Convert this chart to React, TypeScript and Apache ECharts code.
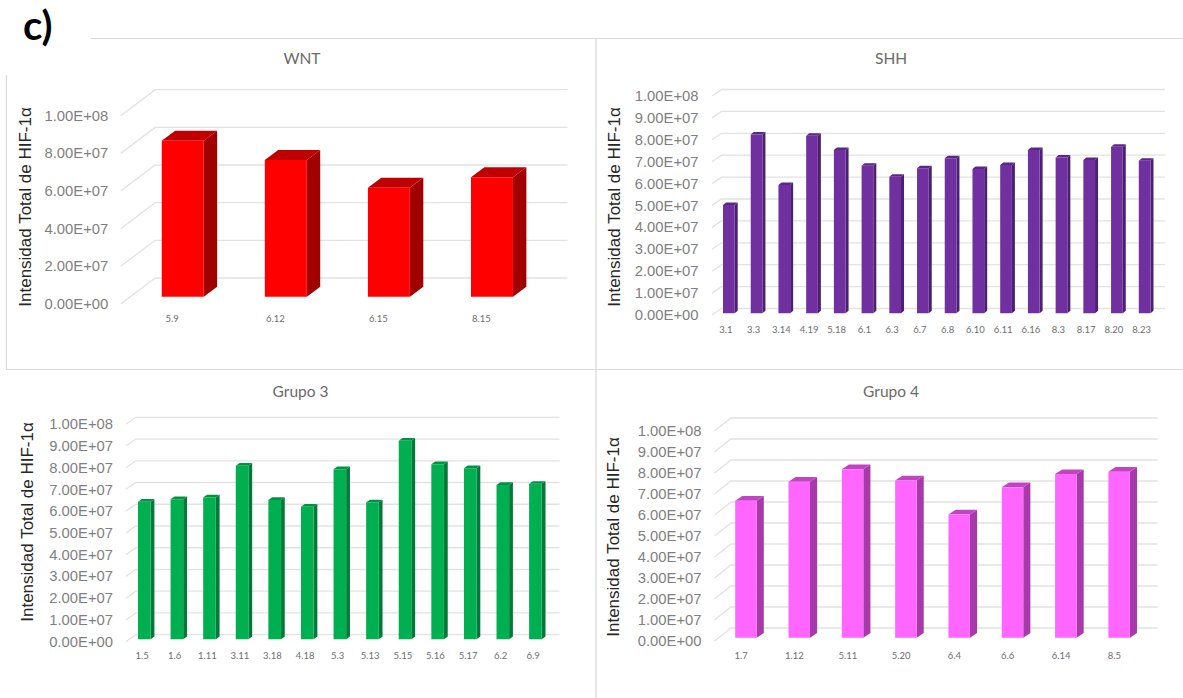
import React, { useEffect, useRef } from "react";
import * as echarts from "echarts";

// Patient sample labels and total HIF-1α intensity for each medulloblastoma group
const wntCategories = ["5.9", "6.12", "6.15", "8.15"];
const wntValues = [8.28e7, 7.26e7, 5.79e7, 6.34e7];

const shhCategories = ["3.1", "3.3", "3.14", "4.19", "5.18", "6.1", "6.3", "6.7", "6.8", "6.10", "6.11", "6.16", "8.3", "8.17", "8.20", "8.23"];
const shhValues = [4.95e7, 8.17e7, 5.86e7, 8.11e7, 7.46e7, 6.74e7, 6.24e7, 6.62e7, 7.08e7, 6.59e7, 6.77e7, 7.46e7, 7.11e7, 7.0e7, 7.61e7, 6.97e7];

const grupo3Categories = ["1.5", "1.6", "1.11", "3.11", "3.18", "4.18", "5.3", "5.13", "5.15", "5.16", "5.17", "6.2", "6.9"];
const grupo3Values = [6.33e7, 6.44e7, 6.52e7, 7.98e7, 6.41e7, 6.1e7, 7.82e7, 6.3e7, 9.13e7, 8.05e7, 7.87e7, 7.1e7, 7.15e7];

const grupo4Categories = ["1.7", "1.12", "5.11", "5.20", "6.4", "6.6", "6.14", "8.5"];
const grupo4Values = [6.52e7, 7.43e7, 8.02e7, 7.49e7, 5.87e7, 7.17e7, 7.79e7, 7.9e7];

const AXIS_NAME = "Intensidad Total de HIF-1α";
const AXIS_MAX = 1e8;

// Pseudo-3D geometry: the grid is the front floor plane, the wall sits behind it,
// and each column stands part-way into the depth.
const panels = [
  {
    title: "WNT", titleX: 297, titleY: 54, categories: wntCategories, values: wntValues, interval: 2e7,
    left: 120.7, right: 533, top: 115.7, bottom: 304, wall: [34.5, 26], nameX: 25.5, nameY: 207, labelRight: 108.3,
    shift: [10.5, -7.3], barWidth: 42, depth: [13.4, 10],
    colors: ["#ff0000", "#a00000", "#c00000"],
  },
  {
    title: "SHH", titleX: 886, titleY: 54, categories: shhCategories, values: shhValues, interval: 1e7,
    left: 712, right: 1155.5, top: 96, bottom: 315, wall: [9.5, 6.5], nameX: 615.2, nameY: 207, labelRight: 698.5,
    shift: [3, -1.7], barWidth: 11.7, depth: [3, 2.5],
    colors: ["#7030a0", "#4b2070", "#5a2785"],
  },
  {
    title: "Grupo 3", titleX: 295.5, titleY: 386.5, categories: grupo3Categories, values: grupo3Values, interval: 1e7,
    left: 125.8, right: 549.5, top: 424.3, bottom: 641.7, wall: [10, 7], nameX: 28.2, nameY: 522, labelRight: 113,
    shift: [2.2, -2.4], barWidth: 12.6, depth: [3.8, 2.7],
    colors: ["#00b050", "#007a38", "#009344"],
  },
  {
    title: "Grupo 4", titleX: 886, titleY: 386.5, categories: grupo4Categories, values: grupo4Values, interval: 1e7,
    left: 714.5, right: 1141, top: 431, bottom: 641, wall: [16.5, 13], nameX: 614.1, nameY: 537, labelRight: 701.5,
    shift: [4.8, -3.3], barWidth: 21.5, depth: [7.1, 4.7],
    colors: ["#ff66ff", "#a839a8", "#c045c0"],
  },
];

const frameLines = [
  [91, 38.5, 1183, 38.5],
  [6.5, 75, 6.5, 369.5],
  [6.5, 369.5, 1183, 369.5],
  [596, 38.5, 596, 698],
];

function scientific(v: number) {
  const [mantissa, exponent] = v.toExponential(2).split("e");
  const sign = exponent[0] === "-" ? "-" : "+";
  return `${mantissa}E${sign}${exponent.replace(/[+-]/, "").padStart(2, "0")}`;
}

function wallTicks(interval: number) {
  const ticks: number[][] = [];
  for (let v = 0; v <= AXIS_MAX; v += interval) ticks.push([0, v]);
  return ticks;
}

function buildOption() {
  const grid: any[] = [];
  const xAxis: any[] = [];
  const yAxis: any[] = [];
  const title: any[] = [];
  const series: any[] = [];

  panels.forEach((p, i) => {
    grid.push({ left: p.left, top: p.top, width: p.right - p.left, height: p.bottom - p.top });
    title.push({
      text: p.title,
      left: p.titleX,
      top: p.titleY - 9,
      textAlign: "center",
      textStyle: { fontFamily: "Lato", fontSize: 15.5, fontWeight: "normal", color: "#6a6a6a" },
    });
    xAxis.push({
      type: "category",
      gridIndex: i,
      data: p.categories,
      axisLine: { show: false },
      axisTick: { show: false },
      axisLabel: { interval: 0, margin: 9, fontFamily: "Lato", fontSize: 9.5, color: "#6e6e6e" },
    });
    const centre = (p.top + p.bottom) / 2;
    yAxis.push({
      type: "value",
      gridIndex: i,
      min: 0,
      max: AXIS_MAX,
      interval: p.interval,
      axisLine: { show: false },
      axisTick: { show: false },
      splitLine: { show: false },
      name: AXIS_NAME,
      nameLocation: "middle",
      nameGap: p.left - p.nameX - 8,
      nameTextStyle: {
        fontFamily: "Liberation Sans",
        fontSize: 17,
        color: "#262626",
        padding: centre > p.nameY ? [0, 0, 0, 2 * (centre - p.nameY)] : [0, 2 * (p.nameY - centre), 0, 0],
      },
      axisLabel: {
        margin: p.left - p.labelRight,
        fontFamily: "Liberation Sans",
        fontSize: 14.8,
        color: "#7f7f7f",
        formatter: scientific,
      },
    });

    // Gridlines run along the side wall and then across the back wall
    series.push({
      type: "custom",
      name: `${p.title} wall`,
      xAxisIndex: i,
      yAxisIndex: i,
      silent: true,
      z: 1,
      data: wallTicks(p.interval),
      encode: { x: 0, y: 1 },
      renderItem: (params: any, api: any) => {
        const sys = params.coordSys;
        const y = api.coord([0, api.value(1)])[1];
        return {
          type: "polyline",
          shape: {
            points: [
              [sys.x, y],
              [sys.x + p.wall[0], y - p.wall[1]],
              [sys.x + sys.width + p.wall[0], y - p.wall[1]],
            ],
          },
          style: { stroke: "#e2e2e2", lineWidth: 1.3, fill: "none" },
        };
      },
    });

    // Each column is a front face plus its side and top parallelograms
    series.push({
      type: "custom",
      name: p.title,
      xAxisIndex: i,
      yAxisIndex: i,
      z: 2,
      data: p.values.map((v, k) => [k, v]),
      encode: { x: 0, y: 1 },
      renderItem: (_params: any, api: any) => {
        const idx = api.value(0);
        const head = api.coord([idx, api.value(1)]);
        const foot = api.coord([idx, 0]);
        const x0 = head[0] + p.shift[0] - p.barWidth / 2;
        const x1 = x0 + p.barWidth;
        const top = head[1] + p.shift[1];
        const bottom = foot[1] + p.shift[1];
        const [dx, dy] = p.depth;
        return {
          type: "group",
          children: [
            {
              type: "polygon",
              shape: { points: [[x1, top], [x1 + dx, top - dy], [x1 + dx, bottom - dy], [x1, bottom]] },
              style: { fill: p.colors[1] },
            },
            {
              type: "polygon",
              shape: { points: [[x0, top], [x0 + dx, top - dy], [x1 + dx, top - dy], [x1, top]] },
              style: { fill: p.colors[2] },
            },
            { type: "rect", shape: { x: x0, y: top, width: p.barWidth, height: bottom - top }, style: { fill: p.colors[0] } },
          ],
        };
      },
    });
  });

  const graphic: any[] = frameLines.map(([x1, y1, x2, y2]) => ({
    type: "line",
    silent: true,
    shape: { x1, y1, x2, y2 },
    style: { stroke: "#d9d9d9", lineWidth: 1.2 },
  }));
  graphic.push({
    type: "text",
    x: 23,
    y: 5,
    style: { text: "c)", fontFamily: "Lato", fontSize: 40, fontWeight: "bold", fill: "#000000" },
  });

  return { animation: false, backgroundColor: "#ffffff", grid, xAxis, yAxis, title, series, graphic };
}

export default function App() {
  const ref = useRef<HTMLDivElement>(null);

  useEffect(() => {
    if (!ref.current) return;
    const chart = echarts.init(ref.current, undefined, { renderer: "svg" });
    chart.setOption(buildOption() as any);
    return () => chart.dispose();
  }, []);

  return <div ref={ref} style={{ position: "absolute", left: 0, top: 0, width: 1183, height: 698 }} />;
}
